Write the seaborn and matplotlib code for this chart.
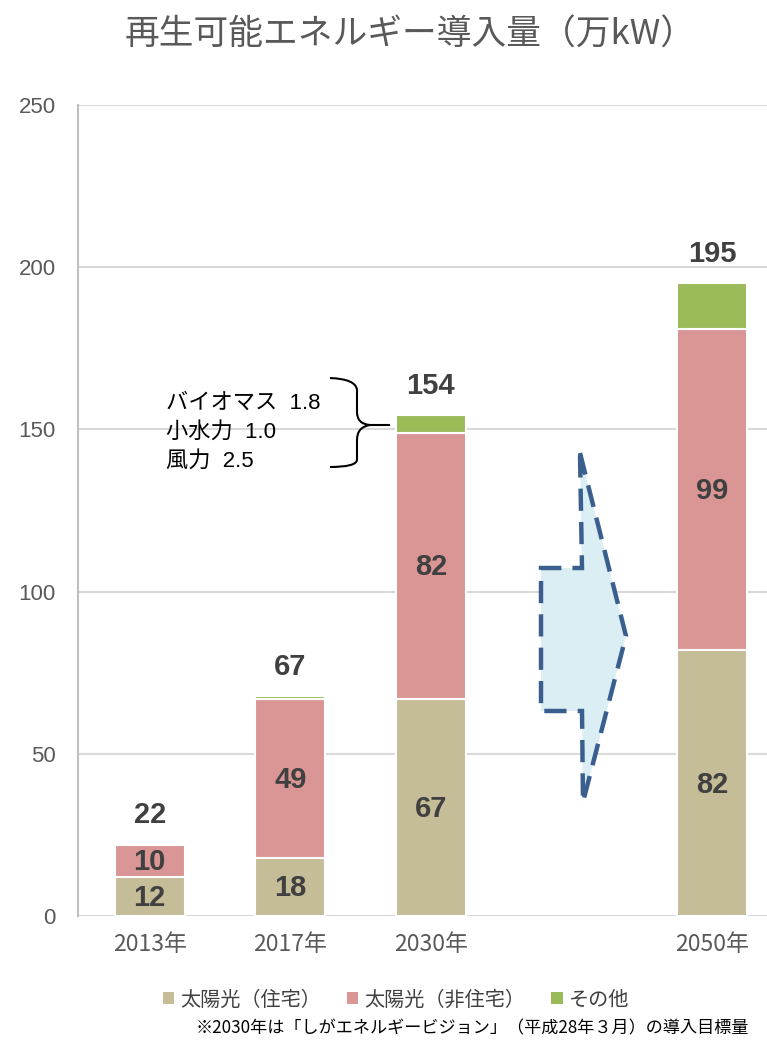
import matplotlib
matplotlib.use("Agg")
import matplotlib.pyplot as plt
import seaborn as sns
import numpy as np
from matplotlib.patches import Polygon, Patch, PathPatch
from matplotlib.path import Path

# データ
years = ["2013年", "2017年", "2030年", "2050年"]
pos = [0, 1, 2, 4]
solar_home = [12, 18, 67, 82]
solar_other = [10, 49, 82, 99]
others = [0, 0.8, 5.3, 14]
totals = [22, 67, 154, 195]
series_names = ["太陽光（住宅）", "太陽光（非住宅）", "その他"]
colors = ["#C4BD97", "#D99694", "#9BBB59"]
note_lines = ["バイオマス  1.8", "小水力  1.0", "風力  2.5"]

sns.set_theme(style="white")
plt.rcParams["font.family"] = ["Liberation Sans", "Noto Sans CJK JP"]

W, H = 767, 1043
fig = plt.figure(figsize=(W / 100, H / 100), dpi=100)
ax = fig.add_axes([78 / W, 1 - 916 / H, 1 - 78 / W, (916 - 105) / H])


def px(x, y):
    # ピクセル座標 -> figure座標
    return (x / W, 1 - y / H)


bottom = np.zeros(len(pos))
for vals, col in zip([solar_home, solar_other, others], colors):
    sns.barplot(x=pos, y=vals, native_scale=True, color=col, saturation=1,
                width=0.5, bottom=bottom, edgecolor="white", linewidth=1.5,
                errorbar=None, ax=ax, zorder=3)
    bottom = bottom + np.array(vals)

# 積み上げ内ラベル
lab_col = "#404040"
for p, a, b in zip(pos, solar_home, solar_other):
    ax.text(p, a / 2 - 0.5, f"{a}", ha="center", va="center", fontsize=21,
            fontweight="bold", color=lab_col, zorder=5)
    ax.text(p, a + b / 2 - 0.5, f"{b}", ha="center", va="center", fontsize=21,
            fontweight="bold", color=lab_col, zorder=5)
for p, t, top in zip(pos, totals, bottom):
    ax.text(p, top + 9, f"{t}", ha="center", va="center", fontsize=21,
            fontweight="bold", color=lab_col, zorder=5)

ax.set_xlim(-0.51, 4.39)
ax.set_ylim(0, 250)
ax.set_yticks(range(0, 251, 50))
ax.set_xticks(pos)
ax.set_xticklabels(years, family=["Noto Sans CJK JP"])
ax.tick_params(axis="y", labelsize=16, colors="#595959", length=0, pad=16)
ax.tick_params(axis="x", labelsize=16.5, colors="#595959", length=0, pad=12)
ax.set_xlabel("")
ax.set_ylabel("")
ax.grid(axis="y", color="#D9D9D9", linewidth=1.5, zorder=0)
ax.set_axisbelow(True)
for s in ["top", "right", "bottom"]:
    ax.spines[s].set_visible(False)
ax.spines["left"].set_color("#BFBFBF")
ax.spines["left"].set_linewidth(1.5)
ax.spines["left"].set_zorder(4)

# 内訳の注記
for i, line in enumerate(note_lines):
    fig.text(*px(166, 403 + i * 29), line, fontsize=16, color="black",
             va="center", ha="left", family=["Liberation Sans", "Noto Sans CJK JP"])

# 中括弧
brace_pts = [px(330, 378), px(356, 379), px(357, 390), px(357, 412),
             px(357, 424), px(370, 425), px(390, 425),
             px(370, 425), px(357, 427), px(357, 440),
             px(357, 460), px(356, 467), px(330, 467)]
codes = [Path.MOVETO, Path.CURVE3, Path.CURVE3, Path.LINETO,
         Path.CURVE3, Path.CURVE3, Path.LINETO,
         Path.MOVETO, Path.CURVE3, Path.CURVE3,
         Path.LINETO, Path.CURVE3, Path.CURVE3]
fig.patches.append(PathPatch(Path(brace_pts, codes), transform=fig.transFigure,
                             fill=False, edgecolor="black", linewidth=1.5))

# 矢印（点線）
arrow = [px(580, 453), px(626, 636), px(583, 802), px(582, 711),
         px(541, 711), px(541, 568), px(582, 568)]
fig.patches.append(Polygon(arrow, closed=True, transform=fig.transFigure,
                           facecolor="#DAEEF3", edgecolor="#3A5F8F",
                           linewidth=3.2, linestyle=(0, (5, 2.5)), zorder=6))

# タイトル
fig.text(*px(410, 35), "再生可能エネルギー導入量（万kW）", ha="center", va="center",
         fontsize=25, color="#595959", family=["Noto Sans CJK JP"])

# 凡例
handles = [Patch(facecolor=c, edgecolor="none") for c in colors]
fig.legend(handles, series_names, loc="center", bbox_to_anchor=px(396, 1000),
           ncol=3, frameon=False, handlelength=0.55,
           handleheight=0.55, handletextpad=0.3, columnspacing=1.3,
           prop={"family": ["Noto Sans CJK JP"], "size": 14.5},
           labelcolor="#404040")

fig.text(*px(472, 1028), "※2030年は「しがエネルギービジョン」（平成28年３月）の導入目標量",
         ha="center", va="center", fontsize=12.3, color="black",
         family=["Noto Sans CJK JP"])

fig.savefig("out.png", dpi=100)
